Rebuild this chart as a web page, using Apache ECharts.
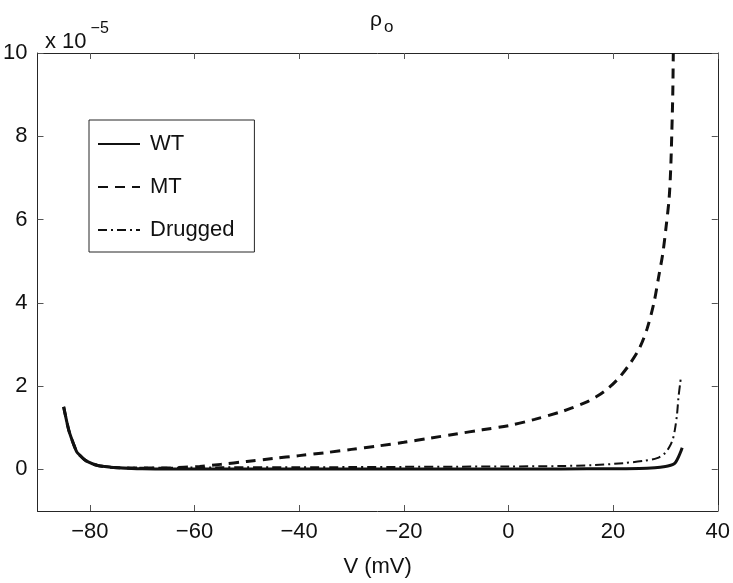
<!DOCTYPE html>
<html>
<head>
<meta charset="utf-8">
<script src="https://cdn.jsdelivr.net/npm/echarts@6/dist/echarts.min.js"></script>
<style>
html, body { margin: 0; padding: 0; background: #fff; }
#chart { width: 733px; height: 583px; }
</style>
</head>
<body>
<div id="chart"></div>
<script>
// values in units of 1e-5
var wtV = [-85, -84.5, -84, -83.5, -83, -82.5, -82, -81, -80, -79, -78, -76, -74, -72, -70, -65, -60, -50, -40, -30, -20, -10, 0, 10, 20, 25, 28, 30, 31, 31.6, 32, 32.5, 33, 33.2];
var wtRho = [1.5, 1.2, 0.93, 0.74, 0.57, 0.42, 0.35, 0.23, 0.16, 0.11, 0.08, 0.05, 0.03, 0.02, 0.015, 0.01, 0.01, 0.01, 0.01, 0.01, 0.01, 0.01, 0.01, 0.01, 0.015, 0.02, 0.04, 0.07, 0.1, 0.13, 0.18, 0.3, 0.45, 0.52];

var mtV = [-85, -84.5, -84, -83.5, -83, -82.5, -82, -81, -80, -79, -78, -76, -74, -72, -70, -66, -62, -59, -55, -50, -45, -40, -35, -30, -25, -20, -15, -10, -5, 0, 5, 10, 12, 15, 17, 19, 21, 23, 25, 26.5, 27.8, 28.7, 29.5, 30.1, 30.7, 31.0, 31.2, 31.4, 31.5];
var mtRho = [1.5, 1.2, 0.93, 0.74, 0.57, 0.42, 0.35, 0.23, 0.16, 0.11, 0.08, 0.05, 0.035, 0.03, 0.03, 0.03, 0.05, 0.07, 0.12, 0.19, 0.26, 0.33, 0.4, 0.48, 0.56, 0.65, 0.75, 0.85, 0.95, 1.05, 1.2, 1.38, 1.47, 1.62, 1.76, 1.94, 2.18, 2.5, 2.9, 3.38, 4.0, 4.62, 5.19, 5.8, 6.5, 7.2, 8.0, 9.0, 10];

var drV = [-85, -84.5, -84, -83.5, -83, -82.5, -82, -81, -80, -79, -78, -76, -74, -72, -70, -65, -60, -50, -40, -30, -20, -10, 0, 10, 16, 22, 26, 28.4, 30, 30.8, 31.4, 31.8, 32.2, 32.5, 32.8, 33.0];
var drRho = [1.5, 1.2, 0.93, 0.74, 0.57, 0.42, 0.35, 0.23, 0.16, 0.12, 0.09, 0.06, 0.045, 0.04, 0.04, 0.04, 0.045, 0.05, 0.05, 0.055, 0.06, 0.065, 0.07, 0.08, 0.1, 0.15, 0.21, 0.27, 0.4, 0.55, 0.72, 0.95, 1.3, 1.74, 2.05, 2.26];

var xTicks = [-80, -60, -40, -20, 0, 20, 40];
var yTicks = [0, 2, 4, 6, 8, 10];

function pairs(xs, ys) {
    return xs.map(function (x, i) { return [x, ys[i]]; });
}
function minus(v) {
    return String(v).replace('-', '\u2212');
}

var font = 'Liberation Sans, Arial, Helvetica, sans-serif';
var axisColor = '#262626';

var myChart = echarts.init(document.getElementById('chart'));

myChart.setOption({
    animation: false,
    textStyle: { fontFamily: font },
    title: [
        {
            text: '{a|ρ}{b|o}',
            left: 365,
            top: 0,
            textStyle: {
                fontWeight: 'normal',
                rich: {
                    a: { fontSize: 21, color: '#111', fontWeight: 'normal', fontFamily: font },
                    b: { fontSize: 17, color: '#111', fontWeight: 'normal', fontFamily: font, padding: [14, 0, 0, 2] }
                }
            }
        },
        {
            text: '{a|x 10}{b|\u22125}',
            left: 40,
            top: 8,
            textStyle: {
                fontWeight: 'normal',
                rich: {
                    a: { fontSize: 22, color: '#111', fontWeight: 'normal', fontFamily: font, padding: [18, 0, 0, 0] },
                    b: { fontSize: 16, color: '#111', fontWeight: 'normal', fontFamily: font, padding: [0, 0, 8, 4] }
                }
            }
        }
    ],
    legend: {
        orient: 'vertical',
        left: 89,
        top: 120,
        padding: [13, 20, 11, 8],
        itemGap: 21,
        itemWidth: 42,
        itemHeight: 14,
        borderColor: axisColor,
        borderWidth: 1,
        itemStyle: { opacity: 0 },
        textStyle: { fontSize: 22, color: '#111', padding: [0, 0, 0, 5] },
        data: ['WT', 'MT', 'Drugged']
    },
    grid: {
        left: 37.5,
        right: 12,
        top: 53,
        bottom: 68
    },
    xAxis: [
        {
            type: 'value',
            min: -90,
            max: 40,
            name: 'V (mV)',
            nameLocation: 'middle',
            nameGap: 45,
            nameTextStyle: { fontSize: 22, color: '#111' },
            axisLine: { onZero: false, lineStyle: { color: axisColor, width: 1 } },
            axisTick: { inside: true, length: 6, lineStyle: { color: '#555' }, customValues: xTicks },
            axisLabel: { fontSize: 22, color: '#111', margin: 10, customValues: xTicks, formatter: minus },
            splitLine: { show: false }
        },
        {
            type: 'value',
            position: 'top',
            min: -90,
            max: 40,
            axisLine: { onZero: false, lineStyle: { color: axisColor, width: 1 } },
            axisTick: { inside: true, length: 6, lineStyle: { color: '#555' }, customValues: xTicks },
            axisLabel: { show: false },
            splitLine: { show: false }
        }
    ],
    yAxis: [
        {
            type: 'value',
            min: -1,
            max: 10,
            axisLine: { show: true, onZero: false, lineStyle: { color: axisColor, width: 1 } },
            axisTick: { show: true, inside: true, length: 6, lineStyle: { color: '#555' }, customValues: yTicks },
            axisLabel: { fontSize: 22, color: '#111', margin: 10, customValues: yTicks, formatter: minus },
            splitLine: { show: false }
        },
        {
            type: 'value',
            position: 'right',
            min: -1,
            max: 10,
            axisLine: { show: true, onZero: false, lineStyle: { color: axisColor, width: 1 } },
            axisTick: { show: true, inside: true, length: 6, lineStyle: { color: '#555' }, customValues: yTicks },
            axisLabel: { show: false },
            splitLine: { show: false }
        }
    ],
    series: [
        {
            name: 'Drugged',
            type: 'line',
            symbol: 'none',
            smooth: 0.3,
            z: 2,
            lineStyle: { color: '#111', width: 2, type: [9, 4, 2, 4] },
            itemStyle: { color: '#111' },
            data: pairs(drV, drRho)
        },
        {
            name: 'MT',
            type: 'line',
            symbol: 'none',
            smooth: 0.3,
            z: 3,
            lineStyle: { color: '#111', width: 3, type: [10, 7] },
            itemStyle: { color: '#111' },
            data: pairs(mtV, mtRho)
        },
        {
            name: 'WT',
            type: 'line',
            symbol: 'none',
            smooth: 0.3,
            z: 4,
            lineStyle: { color: '#111', width: 3 },
            itemStyle: { color: '#111' },
            data: pairs(wtV, wtRho)
        }
    ]
});
</script>
</body>
</html>
